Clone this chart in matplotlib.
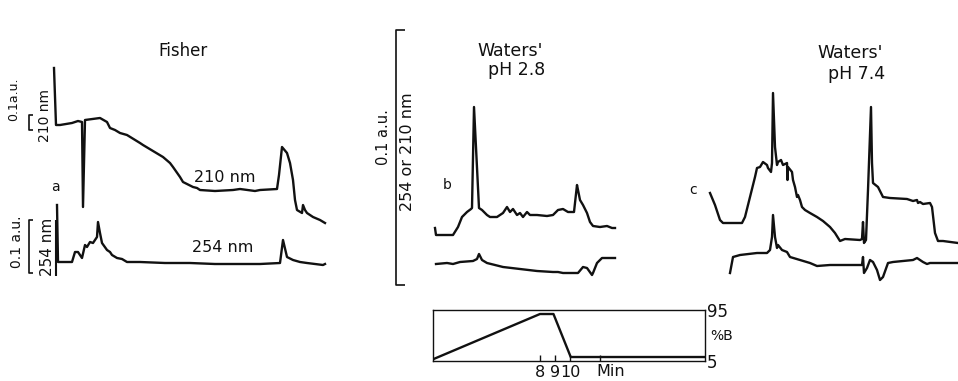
import matplotlib
matplotlib.use("Agg")
import matplotlib.pyplot as plt
from matplotlib.lines import Line2D

# ---------------- data ----------------
# Panel a (Fisher) – 210 nm trace
a210_t = [0.4, 0.6, 1.0, 2.2, 2.5, 2.8, 3.2, 3.3, 3.5, 5.0, 5.7, 6.0, 6.5, 7.0, 7.7,
          9.0, 9.3, 11.3, 12.0, 12.3, 13.0, 13.3, 13.7, 14.3, 14.7, 15.0, 16.5, 18.3,
          19.0, 20.5, 21.0, 22.7, 22.9, 23.2, 23.7, 24.0, 24.3, 24.5, 24.7, 25.2, 25.3,
          25.5, 25.7, 26.3, 27.0, 27.5]
a210_s = [21.2, 15.5, 15.5, 15.7, 15.8, 15.9, 15.8, 7.3, 16.0, 16.2, 15.8, 15.2, 15.0,
          14.7, 14.5, 13.7, 13.5, 12.3, 11.7, 11.3, 10.3, 9.8, 9.6, 9.3, 9.2, 9.0, 8.9,
          9.0, 9.1, 8.9, 9.0, 9.1, 10.5, 13.3, 12.7, 11.7, 10.0, 8.0, 7.0, 6.7, 7.5,
          7.0, 6.7, 6.3, 6.0, 5.7]
# Panel a (Fisher) – 254 nm trace
a254_t = [0.7, 0.8, 1.0, 2.2, 2.5, 2.8, 3.2, 3.5, 3.7, 4.0, 4.3, 4.7, 4.8, 5.0, 5.2,
          5.7, 6.0, 6.2, 6.7, 7.2, 7.7, 9.0, 11.5, 14.0, 16.5, 19.0, 21.0, 23.0, 23.3,
          23.7, 24.3, 25.0, 25.7, 26.5, 27.3, 27.5]
a254_s = [7.5, 1.8, 1.8, 1.8, 2.8, 2.8, 2.2, 3.5, 3.3, 3.8, 3.7, 4.3, 5.8, 4.7, 3.7,
          3.0, 2.8, 2.5, 2.2, 2.1, 1.8, 1.8, 1.7, 1.7, 1.6, 1.6, 1.6, 1.7, 4.0,
          2.3, 2.0, 1.8, 1.7, 1.6, 1.5, 1.6]

# Panel b (Waters' pH 2.8) – upper and lower traces
b_up_t = [1.5, 1.6, 3.3, 3.8, 4.2, 4.7, 5.1, 5.2, 5.4, 5.9, 6.2, 6.7, 7.0, 7.7, 8.0,
          8.3, 8.7, 9.0, 9.3, 9.7, 10.0, 10.3, 10.7, 11.0, 11.7, 12.7, 13.3, 13.8,
          14.3, 14.8, 15.4, 15.7, 15.8, 16.0, 16.3, 16.7, 17.0, 17.3, 18.0, 18.7,
          19.2, 19.5]
b_up_s = [7.2, 6.5, 6.5, 7.3, 8.3, 8.8, 9.1, 9.2, 19.3, 9.2, 9.0, 8.5, 8.3, 8.3, 8.5,
          8.7, 9.3, 8.8, 9.1, 8.5, 8.7, 8.3, 8.8, 8.5, 8.5, 8.4, 8.5, 9.0,
          9.1, 8.8, 8.8, 11.5, 11.0, 10.0, 9.5, 8.7, 7.8, 7.4, 7.3, 7.4,
          7.2, 7.2]
b_lo_t = [1.6, 2.7, 3.3, 4.0, 5.3, 5.7, 5.9, 6.2, 6.7, 8.3, 10.0, 11.7, 13.3, 13.8,
          14.3, 15.8, 16.3, 16.7, 17.2, 17.3, 17.7, 18.2, 19.5]
b_lo_s = [3.6, 3.7, 3.6, 3.8, 3.9, 4.1, 4.6, 4.0, 3.7, 3.3, 3.1, 2.9, 2.8, 2.8,
          2.7, 2.7, 3.3, 3.2, 2.5, 2.7, 3.7, 4.2, 4.2]

# Panel c (Waters' pH 7.4) – upper and lower traces
c_up_t = [3.0, 3.5, 4.0, 4.3, 6.2, 6.5, 7.0, 7.5, 7.7, 8.0,
          8.3, 8.7, 8.8, 9.1, 9.2, 9.3, 9.5, 9.7, 9.8, 10.1,
          10.3, 10.7, 10.75, 10.8, 11.2, 11.3, 11.5, 11.7, 11.8, 12.0,
          12.2, 12.5, 13.0, 13.7, 14.3, 15.0, 15.5, 16.0, 16.5, 18.0,
          18.2, 18.3, 18.4, 18.6, 18.8, 19.1, 19.2, 19.3, 19.8, 20.3,
          21.0, 22.7, 23.3, 23.7, 23.8, 24.0, 24.3, 25.0, 25.2, 25.5,
          25.8, 26.3, 27.8]
c_up_s = [10.7, 9.5, 8.0, 7.7, 7.7, 8.3, 10.3, 12.3, 13.2, 13.3,
          13.8, 13.5, 13.2, 12.8, 13.7, 20.7, 15.3, 13.5, 13.8, 14.0,
          13.5, 13.7, 12.0, 13.3, 12.8, 12.0, 11.3, 10.3, 10.5, 10.0,
          9.3, 9.0, 8.7, 8.3, 7.9, 7.3, 6.7, 5.9, 6.1, 6.0,
          6.1, 7.8, 5.7, 6.0, 11.0, 19.3, 13.7, 11.7, 11.3, 10.3,
          10.2, 10.1, 9.9, 10.0, 9.7, 9.8, 9.6, 9.7, 9.3, 6.7,
          5.9, 5.9, 5.7]
c_lo_t = [5.0, 5.3, 6.0, 7.7, 8.7, 9.0, 9.2, 9.3, 9.5, 9.7, 9.8, 10.2, 10.7, 11.0,
          12.0, 13.0, 13.7, 15.0, 18.2, 18.3, 18.4, 18.7, 19.0, 19.3, 19.7, 20.0,
          20.3, 20.8, 21.3, 23.3, 23.7, 24.0, 24.3, 24.7, 25.0, 27.8]
c_lo_s = [2.7, 4.3, 4.5, 4.7, 4.7, 5.0, 6.3, 8.5, 6.3, 5.2, 5.5, 5.0, 4.8, 4.3,
          4.0, 3.7, 3.4, 3.5, 3.5, 4.3, 2.7, 3.2, 4.0, 3.8, 3.0, 2.0,
          2.3, 3.7, 3.8, 4.0, 4.2, 4.0, 3.8, 3.6, 3.7, 3.7]

# Gradient program (% B vs min)
grad_t = [0.85, 8.0, 8.9, 10.05, 19.0]
grad_b = [0, 95, 95, 5, 5]
grad_ticks = [8, 9, 10, 12]
grad_ticklabels = ["8", "9", "10", ""]

# ---------------- figure ----------------
W, H = 958, 381
fig = plt.figure(figsize=(W / 100, H / 100), dpi=100)
fig.patch.set_facecolor("white")
INK = "#111111"
LW = 1.7


def px_axes(x0, y0, x1, y1, off=True):
    ax = fig.add_axes([x0 / W, 1 - y1 / H, (x1 - x0) / W, (y1 - y0) / H])
    if off:
        ax.set_axis_off()
    return ax


def ftxt(x, y, s, **kw):
    kw.setdefault("ha", "center")
    kw.setdefault("va", "center")
    fig.text(x / W, 1 - y / H, s, color=INK, **kw)


def fline(xs, ys, lw=1.2):
    fig.add_artist(Line2D([x / W for x in xs], [1 - y / H for y in ys],
                          color=INK, lw=lw, solid_capstyle="butt"))


# Panel a
ax_a = px_axes(50, 60, 340, 280)
ax_a.set_xlim(0, 29)
ax_a.set_ylim(0, 22)
ax_a.plot(a210_t, a210_s, color=INK, lw=LW, solid_joinstyle="round")
ax_a.plot(a254_t, a254_s, color=INK, lw=LW, solid_joinstyle="round")

# Panel b
ax_b = px_axes(420, 60, 630, 300)
ax_b.set_xlim(0, 21)
ax_b.set_ylim(0, 24)
ax_b.plot(b_up_t, b_up_s, color=INK, lw=LW, solid_joinstyle="round")
ax_b.plot(b_lo_t, b_lo_s, color=INK, lw=LW, solid_joinstyle="round")

# Panel c
ax_c = px_axes(680, 60, 958, 300)
ax_c.set_xlim(0, 27.8)
ax_c.set_ylim(0, 24)
ax_c.plot(c_up_t, c_up_s, color=INK, lw=LW, solid_joinstyle="round", clip_on=False)
ax_c.plot(c_lo_t, c_lo_s, color=INK, lw=LW, solid_joinstyle="round", clip_on=False)

# Gradient inset
ax_g = px_axes(432.7, 310, 705, 360.7, off=False)
ax_g.set_xlim(0.85, 19.0)
ax_g.set_ylim(-2.7, 103.4)
ax_g.plot(grad_t, grad_b, color=INK, lw=LW)
for sp in ax_g.spines.values():
    sp.set_linewidth(1.0)
    sp.set_color(INK)
ax_g.set_yticks([])
ax_g.set_xticks(grad_ticks)
ax_g.set_xticklabels(grad_ticklabels, fontsize=11.5, color=INK)
ax_g.tick_params(axis="x", direction="in", length=4, width=1, pad=3, colors=INK)
ax_g.set_facecolor("white")

# Scale bars
fline([33, 29, 29, 33], [115, 115, 130, 130], lw=1.2)   # 210 nm bracket
fline([33, 29, 29, 33], [220, 220, 273, 273], lw=1.2)   # 254 nm bracket
fline([56, 56], [220, 276], lw=1.5)
fline([405, 396, 396, 405], [30, 30, 285, 285], lw=1.2)  # panel b/c bracket

# Texts
ftxt(183, 51, "Fisher", fontsize=12)
ftxt(510, 51, "Waters'", fontsize=12.5)
ftxt(517, 70, "pH 2.8", fontsize=12.5)
ftxt(850, 53, "Waters'", fontsize=12.5)
ftxt(857, 74, "pH 7.4", fontsize=12.5)

ftxt(14, 99, "0.1a.u.", rotation=90, fontsize=9)
ftxt(45, 115, "210 nm", rotation=90, fontsize=10)
ftxt(17, 242, "0.1 a.u.", rotation=90, fontsize=10)
ftxt(48, 247, "254 nm", rotation=90, fontsize=11)
ftxt(225, 177, "210 nm", fontsize=11.5)
ftxt(223, 248, "254 nm", fontsize=11.5)
ftxt(55, 187, "a", fontsize=10)
ftxt(447, 185, "b", fontsize=10)
ftxt(693, 190, "c", fontsize=10)

ftxt(383, 137, "0.1 a.u.", rotation=90, fontsize=10.5)
ftxt(407, 152, "254 or 210 nm", rotation=90, fontsize=11.5)

ftxt(707, 312, "95", fontsize=12, ha="left")
ftxt(710, 336, "%B", fontsize=10, ha="left")
ftxt(707, 363, "5", fontsize=12, ha="left")
ftxt(611, 372, "Min", fontsize=11.5)

fig.savefig("out.png", dpi=100, facecolor="white")
